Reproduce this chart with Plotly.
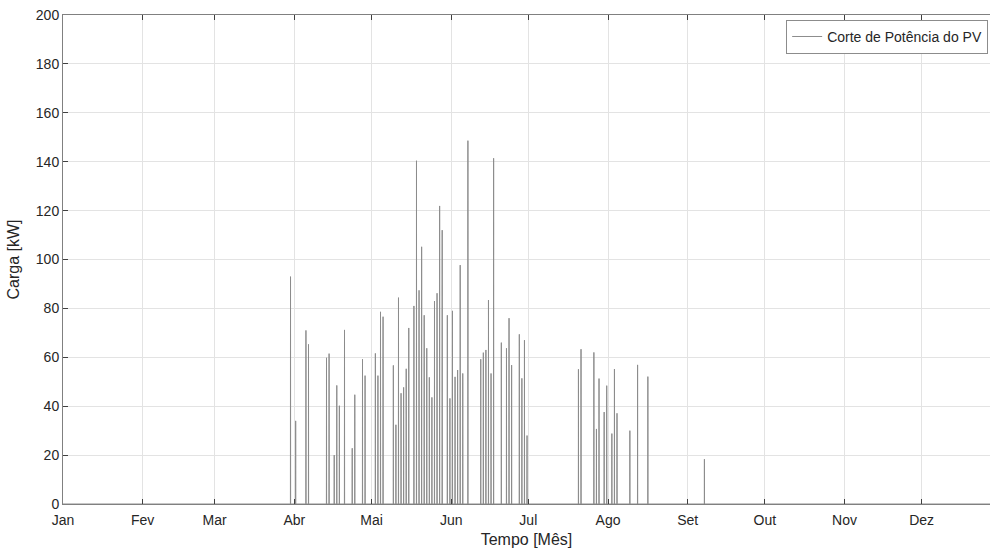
import plotly.graph_objects as go
import pandas as pd

# ---- data ----
year = 2019
event_dates = [
    "03-30", "04-01", "04-05", "04-06", "04-13", "04-14", "04-16", "04-17", "04-18", "04-20",
    "04-23", "04-24", "04-27", "04-28", "05-02", "05-03", "05-04", "05-05", "05-09", "05-10",
    "05-11", "05-12", "05-13", "05-14", "05-15", "05-17", "05-18", "05-19", "05-20", "05-21",
    "05-22", "05-23", "05-24", "05-25", "05-26", "05-27", "05-28", "05-30", "05-31", "06-01",
    "06-02", "06-03", "06-04", "06-05", "06-07", "06-12", "06-13", "06-14", "06-15", "06-16",
    "06-17", "06-20", "06-22", "06-23", "06-24", "06-27", "06-28", "06-29", "06-30",
    "07-20", "07-21", "07-26", "07-27", "07-28", "07-30", "07-31", "08-02", "08-03", "08-04",
    "08-09", "08-12", "08-16", "09-07",
]
peak_kw = [
    93.0, 34.0, 71.0, 65.3, 59.8, 61.5, 20.0, 48.5, 40.2, 71.2,
    22.8, 44.7, 59.2, 52.5, 61.6, 52.5, 78.6, 76.6, 56.7, 32.4,
    84.4, 45.3, 47.7, 55.3, 72.0, 81.0, 140.4, 87.4, 105.2, 77.2,
    63.7, 51.8, 43.6, 83.0, 86.2, 121.9, 112.0, 77.2, 43.2, 79.0,
    52.0, 54.8, 97.7, 53.4, 148.6, 59.2, 61.9, 63.0, 83.4, 53.4,
    141.4, 66.0, 63.7, 76.0, 56.8, 69.4, 51.4, 67.0, 28.0,
    55.1, 63.3, 62.0, 30.7, 51.3, 37.6, 48.4, 28.8, 55.2, 37.1,
    30.0, 56.9, 52.1, 18.3,
]
month_labels = ["Jan", "Fev", "Mar", "Abr", "Mai", "Jun", "Jul", "Ago", "Set", "Out", "Nov", "Dez"]
y_ticks = [0, 20, 40, 60, 80, 100, 120, 140, 160, 180, 200]

# ---- build the curtailment series (zero outside each daily event) ----
xs = [pd.Timestamp(f"{year}-01-01 00:00")]
ys = [0.0]
for d, v in zip(event_dates, peak_kw):
    day = pd.Timestamp(f"{year}-{d}")
    xs += [day + pd.Timedelta(hours=11), day + pd.Timedelta(hours=12), day + pd.Timedelta(hours=13)]
    ys += [0.0, v, 0.0]
xs.append(pd.Timestamp(f"{year}-12-31 23:00"))
ys.append(0.0)

month_ticks = [pd.Timestamp(f"{year}-{m:02d}-01") for m in range(1, 13)]

fig = go.Figure()
fig.add_trace(go.Scatter(
    x=xs, y=ys, mode="lines",
    line=dict(color="#8c8c8c", width=1),
    name="Corte de Potência do PV",
    showlegend=True,
))

font_family = "Liberation Sans, Arial, sans-serif"
axis_col = "#808080"
fig.update_layout(
    width=990, height=554,
    margin=dict(l=63, r=0, t=15, b=50),
    paper_bgcolor="white", plot_bgcolor="white",
    font=dict(family=font_family, size=14, color="#262626"),
    showlegend=True,
    legend=dict(
        x=0.998, y=0.99, xanchor="right", yanchor="top",
        bgcolor="white", bordercolor="#8c8c8c", borderwidth=1,
        font=dict(size=14, color="#262626"),
        tracegroupgap=0, itemwidth=30,
    ),
    xaxis=dict(
        type="date",
        range=[f"{year}-01-01 00:00", f"{year}-12-27 14:00"],
        tickvals=month_ticks, ticktext=month_labels,
        ticks="inside", ticklen=5, tickcolor="#404040",
        ticklabelstandoff=3,
        showline=True, linecolor=axis_col, linewidth=1, mirror="ticks",
        showgrid=True, gridcolor="#e3e3e3", gridwidth=1,
        zeroline=False,
        tickfont=dict(size=14),
        title=dict(text="Tempo [Mês]", font=dict(size=16), standoff=7),
    ),
    yaxis=dict(
        range=[0, 200],
        tickvals=y_ticks,
        ticks="inside", ticklen=5, tickcolor="#404040",
        showline=True, linecolor=axis_col, linewidth=1, mirror=False,
        showgrid=True, gridcolor="#e3e3e3", gridwidth=1,
        zeroline=False,
        tickfont=dict(size=14),
        title=dict(text="Carga [kW]", font=dict(size=16), standoff=12),
    ),
)

fig.write_html(
    "out.html",
    config={"displayModeBar": False},
    post_script="document.body.style.margin='0';document.body.style.overflow='hidden';",
)
